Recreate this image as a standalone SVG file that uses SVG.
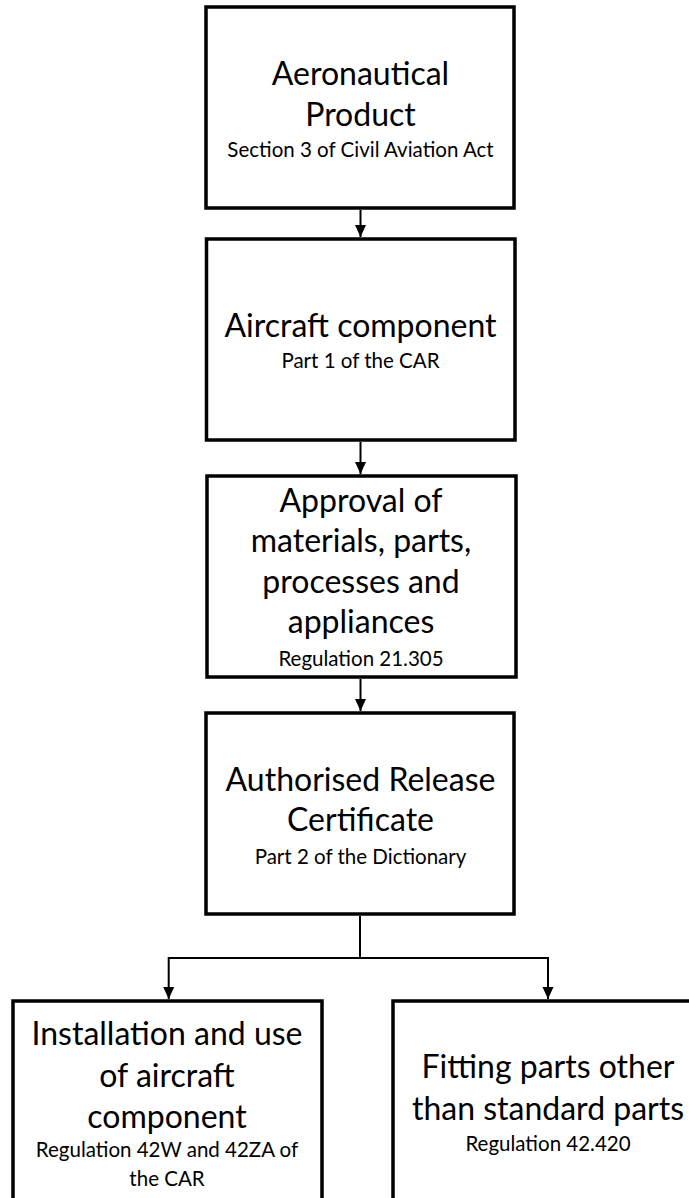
<svg xmlns="http://www.w3.org/2000/svg" width="689" height="1198" viewBox="0 0 689 1198">
<style>
.box{fill:#fff;stroke:#000;stroke-width:3.5}
.big{font-family:Lato,"Liberation Sans",sans-serif;font-size:32px;fill:#000;text-anchor:middle}
.small{font-family:Lato,"Liberation Sans",sans-serif;font-size:20.5px;fill:#000;text-anchor:middle}
.conn{fill:none;stroke:#000;stroke-width:2}
</style>
<defs>
<marker id="arr" markerUnits="userSpaceOnUse" markerWidth="13" markerHeight="13" viewBox="0 0 13 13" refX="12" refY="6.5" orient="auto">
<path d="M0,1 L12,6.5 L0,12 Z" fill="#000"/>
</marker>
</defs>
<rect width="689" height="1198" fill="#fff"/>
<g id="connectors">
<path class="conn" d="M360.5 210 V237" marker-end="url(#arr)"/>
<path class="conn" d="M360.5 442 V474" marker-end="url(#arr)"/>
<path class="conn" d="M360.5 679 V711" marker-end="url(#arr)"/>
<path class="conn" d="M360 916 V958 H168.7 V999" marker-end="url(#arr)"/>
<path class="conn" d="M360 958 H548 V999" marker-end="url(#arr)"/>
</g>
<g id="aeronautical-product">
<rect class="box" x="206" y="7" width="308" height="201"/>
<text class="big" x="360.5" y="85">Aeronautical</text>
<text class="big" x="360.5" y="126">Product</text>
<text class="small" x="360.5" y="157">Section 3 of Civil Aviation Act</text>
</g>
<g id="aircraft-component">
<rect class="box" x="206.5" y="239" width="308.5" height="201"/>
<text class="big" x="360.5" y="337">Aircraft component</text>
<text class="small" x="360.5" y="368">Part 1 of the CAR</text>
</g>
<g id="approval">
<rect class="box" x="207" y="476" width="309" height="201"/>
<text class="big" x="361" y="512">Approval of</text>
<text class="big" x="361" y="552">materials, parts,</text>
<text class="big" x="361" y="593">processes and</text>
<text class="big" x="361" y="633">appliances</text>
<text class="small" x="361" y="666">Regulation 21.305</text>
</g>
<g id="authorised-release-certificate">
<rect class="box" x="206" y="713" width="308" height="201"/>
<text class="big" x="360.5" y="791">Authorised Release</text>
<text class="big" x="360.5" y="831">Certificate</text>
<text class="small" x="360.5" y="864">Part 2 of the Dictionary</text>
</g>
<g id="installation-and-use">
<rect class="box" x="13" y="1001" width="309" height="201"/>
<text class="big" x="167" y="1045">Installation and use</text>
<text class="big" x="167" y="1087">of aircraft</text>
<text class="big" x="167" y="1128">component</text>
<text class="small" x="167" y="1157">Regulation 42W and 42ZA of</text>
<text class="small" x="167" y="1186">the CAR</text>
</g>
<g id="fitting-parts">
<rect class="box" x="393" y="1001" width="310" height="201"/>
<text class="big" x="548" y="1078">Fitting parts other</text>
<text class="big" x="548" y="1120">than standard parts</text>
<text class="small" x="548" y="1151">Regulation 42.420</text>
</g>
</svg>
